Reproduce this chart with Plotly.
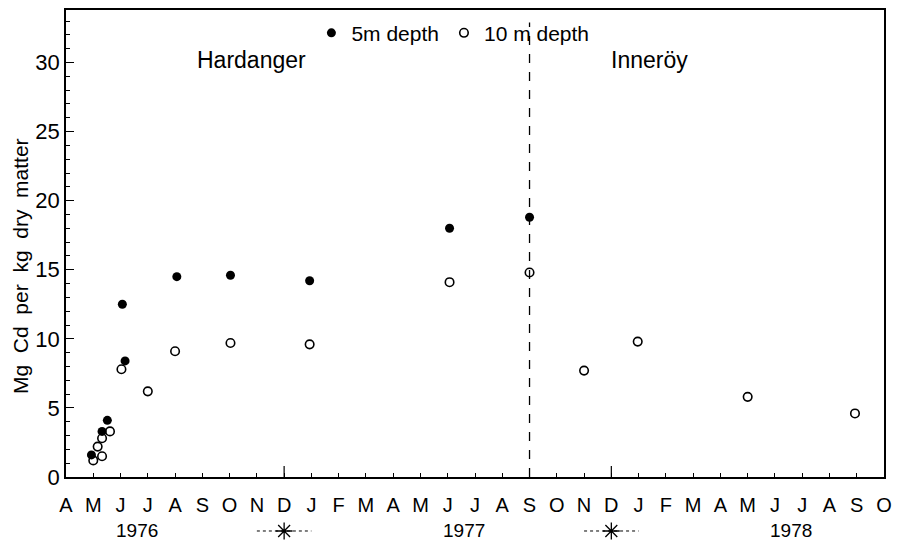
import calendar
import plotly.graph_objects as go

# Sampling dates and cadmium content (mg Cd per kg dry matter)
depth5_dates = ["1976-04-29", "1976-05-11", "1976-05-17", "1976-06-03", "1976-06-06",
                "1976-08-03", "1976-10-02", "1976-12-30", "1977-06-03", "1977-09-01"]
depth5_cd = [1.6, 3.3, 4.1, 12.5, 8.4, 14.5, 14.6, 14.2, 18.0, 18.8]

depth10_dates = ["1976-05-01", "1976-05-06", "1976-05-11", "1976-05-11", "1976-05-20",
                 "1976-06-02", "1976-07-01", "1976-08-01", "1976-10-02", "1976-12-30",
                 "1977-06-03", "1977-09-01", "1977-11-01", "1977-12-31", "1978-05-01",
                 "1978-08-30"]
depth10_cd = [1.2, 2.2, 1.5, 2.8, 3.3, 7.8, 6.2, 9.1, 9.7, 9.6,
              14.1, 14.8, 7.7, 9.8, 5.8, 4.6]

# Time axis: month ticks from April 1976 to October 1978
START_YEAR, START_MONTH = 1976, 4
N_MONTHS = 30
MONTH_LETTERS = "JFMAMJJASOND"
YEARS = [1976, 1977, 1978]
TRANSFER_DATE = "1977-09-01"   # moved from Hardanger to Inneröy
YEAR_BREAKS = ["1976-12-01", "1977-12-01"]

FONT = "Liberation Sans, Arial, sans-serif"
MAIN_BOTTOM = 0.1222   # paper fraction where the main plot area starts
ROW_Y = 0.207          # height of the year row inside the bottom strip


def month_pos(date):
    y, m, d = (int(p) for p in date.split("-"))
    days = calendar.monthrange(y, m)[1]
    return (y - START_YEAR) * 12 + (m - START_MONTH) + (d - 1) / days


tick_vals = list(range(N_MONTHS + 1))
tick_text = [MONTH_LETTERS[(START_MONTH - 1 + i) % 12] for i in tick_vals]

fig = go.Figure()

fig.add_trace(go.Scatter(
    x=[month_pos(d) for d in depth5_dates], y=depth5_cd,
    mode="markers", name="5m depth",
    marker=dict(symbol="circle", size=9, color="black"),
))
fig.add_trace(go.Scatter(
    x=[month_pos(d) for d in depth10_dates], y=depth10_cd,
    mode="markers", name="10 m depth",
    marker=dict(symbol="circle-open", size=8.5, color="black", line=dict(width=1.6)),
))

# Winter markers in the strip below the axis: asterisk with dotted arms
break_x = [month_pos(d) for d in YEAR_BREAKS]
arm_x, arm_y = [], []
for bx in break_x:
    arm_x += [bx - 1.0, bx + 1.0, None]
    arm_y += [ROW_Y, ROW_Y, None]
fig.add_trace(go.Scatter(
    x=arm_x, y=arm_y, xaxis="x2", yaxis="y2", mode="lines", showlegend=False,
    hoverinfo="skip", line=dict(color="black", width=1, dash="dot"),
))
fig.add_trace(go.Scatter(
    x=break_x, y=[ROW_Y] * len(break_x), xaxis="x2", yaxis="y2", mode="markers",
    showlegend=False, hoverinfo="skip", cliponaxis=False,
    marker=dict(symbol="asterisk-open", size=14, color="black",
                line=dict(width=1.3, color="black")),
))

# Longer tick at each December
for bx in break_x:
    fig.add_shape(type="line", xref="x", yref="y", x0=bx, x1=bx, y0=0, y1=0.8,
                  line=dict(color="black", width=1.2))

# Transfer line
tx = month_pos(TRANSFER_DATE)
fig.add_shape(type="line", xref="x", yref="y", x0=tx, x1=tx, y0=0, y1=32.9,
              line=dict(color="black", width=1.3, dash="dash"))

annotations = [
    dict(text="Hardanger", x=6.8, y=30.15, xref="x", yref="y", showarrow=False,
         font=dict(size=23, family=FONT, color="black")),
    dict(text="Inneröy", x=21.4, y=30.15, xref="x", yref="y", showarrow=False,
         font=dict(size=23, family=FONT, color="black")),
    dict(text="Mg  Cd  per  kg  dry  matter", x=-45 / 818, y=0.5188,
         xref="paper", yref="paper", xanchor="center", yanchor="middle",
         textangle=-90, showarrow=False, font=dict(size=21, family=FONT, color="black")),
]
for yr in YEARS:
    annotations.append(dict(text=str(yr), x=(yr - START_YEAR) * 12 + 2.6, y=ROW_Y,
                            xref="x2", yref="y2", xanchor="center", yanchor="middle",
                            showarrow=False, font=dict(size=19, family=FONT, color="black")))

fig.update_layout(
    width=908, height=542,
    margin=dict(l=66, r=24, t=10, b=0, autoexpand=False),
    paper_bgcolor="white", plot_bgcolor="white",
    font=dict(family=FONT, color="black"),
    showlegend=True,
    legend=dict(orientation="h", x=0.3, y=0.995, xanchor="left", yanchor="top",
                font=dict(size=21, family=FONT), itemwidth=30, bgcolor="rgba(0,0,0,0)"),
    annotations=annotations,
    xaxis=dict(range=[0, N_MONTHS], tickmode="array", tickvals=tick_vals, ticktext=tick_text,
               ticks="inside", ticklen=4, tickwidth=1.2, tickcolor="black",
               ticklabelstandoff=9, anchor="y", automargin=False,
               showline=True, linecolor="black", linewidth=1.5, mirror=True,
               showgrid=False, zeroline=False, tickfont=dict(size=20, family=FONT)),
    yaxis=dict(domain=[MAIN_BOTTOM, 1], range=[0, 33.8], anchor="x", automargin=False,
               tickmode="array", tickvals=[0, 5, 10, 15, 20, 25, 30],
               ticks="inside", ticklen=8, tickwidth=1.2, tickcolor="black",
               minor=dict(dtick=1, ticks="inside", ticklen=4, tickwidth=1, tickcolor="black"),
               showline=True, linecolor="black", linewidth=1.5, mirror=True,
               showgrid=False, zeroline=False, tickfont=dict(size=22, family=FONT)),
    xaxis2=dict(matches="x", anchor="y2", visible=False, showgrid=False, zeroline=False,
                automargin=False),
    yaxis2=dict(domain=[0, 0.1], range=[0, 1], anchor="x2", visible=False,
                showgrid=False, zeroline=False, automargin=False),
)

fig.write_html("out.html")
